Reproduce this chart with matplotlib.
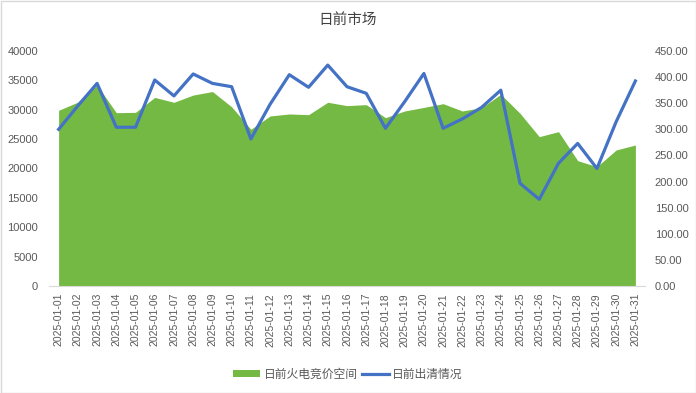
import matplotlib
matplotlib.use("Agg")
import matplotlib.pyplot as plt
from matplotlib.patches import Patch, Rectangle
from matplotlib.lines import Line2D

plt.rcParams['font.family'] = ['Liberation Sans', 'Noto Sans CJK SC', 'DejaVu Sans']

dates = ["2025-01-%02d" % d for d in range(1, 32)]
space = [29900, 31300, 34200, 29500, 29560, 32100, 31270, 32500, 33100, 30500,
         26670, 28940, 29280, 29160, 31270, 30700, 30870, 28650, 29790, 30400,
         31030, 29790, 30350, 32630, 29390, 25420, 26270, 21330, 20310, 23150, 24000]
clearing = [300, 345, 388, 304, 304, 394.5, 364, 406, 388, 381.6,
            281.5, 348, 404.6, 380.5, 423, 381.6, 369, 302, 353, 407,
            302, 320, 342, 375, 196.6, 166, 235, 273, 225, 314.6, 392.6]
left_ticks = [0, 5000, 10000, 15000, 20000, 25000, 30000, 35000, 40000]
right_ticks = [0, 50, 100, 150, 200, 250, 300, 350, 400, 450]

green = '#74b944'
blue = '#4472c4'
gray = '#595959'

fig = plt.figure(figsize=(6.96, 3.93), dpi=100)
ax = fig.add_axes([49/696, 1-286/393, 596/696, 235/393])
x = list(range(len(dates)))
ax.fill_between(x, space, 0, color=green, linewidth=0)
ax.set_xlim(-0.5, len(dates)-0.5)
ax.set_ylim(0, 40000)
ax.set_yticks(left_ticks)
ax.set_yticklabels([str(v) for v in left_ticks])
ax.set_xticks(x)
ax.set_xticklabels(dates, rotation=90, fontsize=7.5, color=gray)
ax.tick_params(axis='both', length=0, colors=gray, labelsize=8)
ax.tick_params(axis='x', labelsize=7.5, pad=5)
ax.tick_params(axis='y', pad=8)
for s in ['top', 'left', 'right']:
    ax.spines[s].set_visible(False)
ax.spines['bottom'].set_color('#d9d9d9')

ax2 = ax.twinx()
ax2.plot(x, clearing, color=blue, linewidth=2.3, solid_joinstyle='round')
ax2.set_ylim(0, 450)
ax2.set_yticks(right_ticks)
ax2.set_yticklabels(["%.2f" % v for v in right_ticks])
ax2.tick_params(axis='y', length=0, colors=gray, labelsize=8, pad=7)
for s in ['top', 'left', 'right', 'bottom']:
    ax2.spines[s].set_visible(False)

fig.text(0.5, 1-20/393, "日前市场", ha='center', va='center', fontsize=10.5,
         color='#404040', family=['Noto Sans CJK SC', 'DejaVu Sans'])

handles = [Patch(facecolor=green, edgecolor='none'), Line2D([0], [0], color=blue, linewidth=2.3)]
fig.legend(handles, ["日前火电竞价空间", "日前出清情况"], loc='center',
           bbox_to_anchor=(0.5, 1-374/393), ncol=2, frameon=False,
           prop={'family': ['Noto Sans CJK SC', 'DejaVu Sans'], 'size': 8.5},
           labelcolor=gray, handlelength=2.3, handleheight=0.6, columnspacing=0.3,
           handletextpad=0.3)

fig.add_artist(Rectangle((0.5/696, 0.5/393), 1-1/696, 1-1/393, transform=fig.transFigure,
                         fill=False, edgecolor='#d9d9d9', linewidth=1))
fig.savefig('out.png', dpi=100)
